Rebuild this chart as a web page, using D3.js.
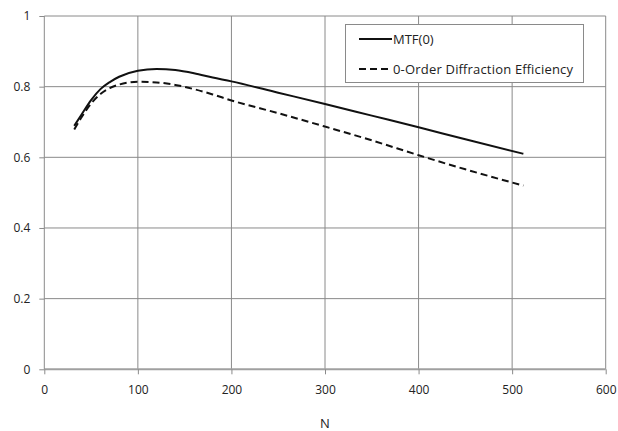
<!DOCTYPE html>
<html>
<head>
<meta charset="utf-8">
<script src="https://cdn.jsdelivr.net/npm/d3@7"></script>
<style>
  body { margin: 0; background: #fff; }
  text { font-family: "Open Sans", sans-serif; fill: #222; }
</style>
</head>
<body>
<svg id="canvas" width="618" height="431"></svg>
<script>
// values
let nValues = [32, 40, 50, 60, 70, 80, 100, 120, 140, 160, 180, 200, 250, 300, 350, 400, 450, 512]
let mtfValues = [0.689, 0.722, 0.762, 0.793, 0.813, 0.828, 0.845, 0.850, 0.847, 0.838, 0.826, 0.815, 0.783, 0.751, 0.718, 0.685, 0.651, 0.610]
let effValues = [0.679, 0.714, 0.752, 0.779, 0.796, 0.806, 0.814, 0.812, 0.805, 0.793, 0.778, 0.761, 0.725, 0.687, 0.648, 0.606, 0.566, 0.520]
let xTicks = [0, 100, 200, 300, 400, 500, 600]
let yTicks = [0, 0.2, 0.4, 0.6, 0.8, 1]
let seriesNames = ['MTF(0)', '0-Order Diffraction Efficiency']

let canvas = d3.select('#canvas')

let plotLeft = 44.3, plotRight = 605.7, plotTop = 16, plotBottom = 369.3

let xScale = d3.scaleLinear().domain([0, 600]).range([plotLeft, plotRight])
let yScale = d3.scaleLinear().domain([0, 1]).range([plotBottom, plotTop])

// grid
canvas.append('g')
    .selectAll('line')
    .data(xTicks.slice(1))
    .enter()
    .append('line')
    .attr('x1', (d) => xScale(d)).attr('x2', (d) => xScale(d))
    .attr('y1', plotTop).attr('y2', plotBottom)
    .attr('stroke', '#8a8a8a').attr('stroke-width', 1)

canvas.append('g')
    .selectAll('line')
    .data(yTicks.slice(1))
    .enter()
    .append('line')
    .attr('x1', plotLeft).attr('x2', plotRight)
    .attr('y1', (d) => yScale(d)).attr('y2', (d) => yScale(d))
    .attr('stroke', '#8a8a8a').attr('stroke-width', 1)

// axes
let xAxis = d3.axisBottom(xScale).tickValues(xTicks).tickSize(5).tickPadding(11)
let yAxis = d3.axisLeft(yScale).tickValues(yTicks).tickSize(5).tickPadding(9)
    .tickFormat((d) => d === 0 || d === 1 ? d3.format('d')(d) : d3.format('.1f')(d))

let gx = canvas.append('g')
    .attr('transform', 'translate(0,' + plotBottom + ')')
    .call(xAxis)
gx.select('.domain').attr('stroke', '#a0a0a0').attr('stroke-width', 2).attr('d', 'M' + plotLeft + ',0H' + plotRight)
gx.selectAll('.tick line').attr('stroke', '#8a8a8a')
gx.selectAll('text').attr('font-size', 12).attr('font-family', '"Open Sans", sans-serif').attr('fill', '#222')

let gy = canvas.append('g')
    .attr('transform', 'translate(' + plotLeft + ',0)')
    .call(yAxis)
gy.select('.domain').attr('stroke', '#8a8a8a').attr('d', 'M0,' + plotTop + 'V' + plotBottom)
gy.selectAll('.tick line').attr('stroke', '#8a8a8a')
gy.selectAll('text').attr('font-size', 12).attr('font-family', '"Open Sans", sans-serif').attr('fill', '#222')

// axis title
canvas.append('text')
    .text('N')
    .attr('x', xScale(300))
    .attr('y', 428)
    .attr('text-anchor', 'middle')
    .attr('font-size', 13)

// lines
let line = (values) => d3.line()
    .x((d, i) => xScale(nValues[i]))
    .y((d) => yScale(d))
    .curve(d3.curveMonotoneX)(values)

canvas.append('path')
    .attr('d', line(mtfValues))
    .attr('fill', 'none')
    .attr('stroke', '#111')
    .attr('stroke-width', 2)

canvas.append('path')
    .attr('d', line(effValues))
    .attr('fill', 'none')
    .attr('stroke', '#111')
    .attr('stroke-width', 2)
    .attr('stroke-dasharray', '7,4')

// legend
let legend = canvas.append('g')
legend.append('rect')
    .attr('x', 345.5).attr('y', 24.5)
    .attr('width', 238).attr('height', 58)
    .attr('fill', '#fff')
    .attr('stroke', '#8a8a8a')

legend.selectAll('line')
    .data(seriesNames)
    .enter()
    .append('line')
    .attr('x1', 359).attr('x2', 392)
    .attr('y1', (d, i) => 39 + i * 30).attr('y2', (d, i) => 39 + i * 30)
    .attr('stroke', '#111')
    .attr('stroke-width', 2)
    .attr('stroke-dasharray', (d, i) => i === 0 ? null : '7,4')

legend.selectAll('text')
    .data(seriesNames)
    .enter()
    .append('text')
    .text((d) => d)
    .attr('x', 393)
    .attr('y', (d, i) => 43.5 + i * 30)
    .attr('font-size', 13)
    .attr('textLength', (d, i) => i === 0 ? null : 180)
</script>
</body>
</html>
